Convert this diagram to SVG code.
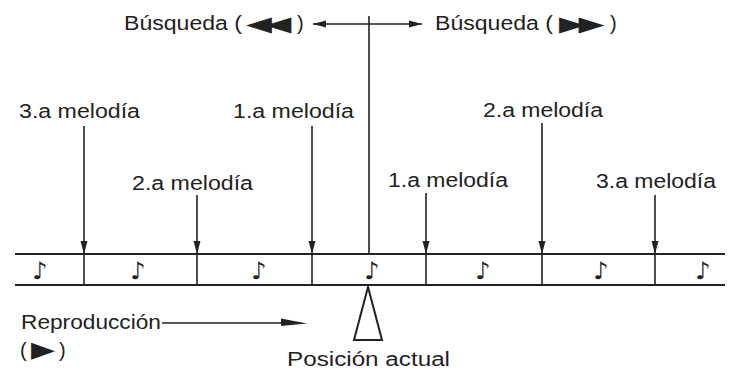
<svg xmlns="http://www.w3.org/2000/svg" width="734" height="370" viewBox="0 0 734 370">
<defs>
<style>
text{font-family:"Liberation Sans",Arial,sans-serif;font-size:20px;fill:#222}
.sym{font-family:"DejaVu Sans",sans-serif}
.note{font-family:"DejaVu Sans",sans-serif;font-size:24px;text-anchor:middle;fill:#222}
.ln{stroke:#222;stroke-width:1.6;fill:none}
.tape{stroke:#222;stroke-width:2.2;fill:none}
</style>
<marker id="ah" markerUnits="userSpaceOnUse" markerWidth="13" markerHeight="8" refX="13" refY="4" orient="auto-start-reverse" viewBox="0 0 13 8">
<path d="M0,0.5 L13,4 L0,7.5 z" fill="#222"/>
</marker>
</defs>
<rect width="734" height="370" fill="#fff"/>

<g id="tape">
<line class="tape" x1="15" y1="254" x2="725" y2="254"/>
<line class="tape" x1="15" y1="285" x2="725" y2="285"/>
<line class="ln" x1="84" y1="254" x2="84" y2="285"/>
<line class="ln" x1="197" y1="254" x2="197" y2="285"/>
<line class="ln" x1="312" y1="254" x2="312" y2="285"/>
<line class="ln" x1="426" y1="254" x2="426" y2="285"/>
<line class="ln" x1="542" y1="254" x2="542" y2="285"/>
<line class="ln" x1="655" y1="254" x2="655" y2="285"/>
<text class="note" x="40" y="279">♪</text>
<text class="note" x="138" y="279">♪</text>
<text class="note" x="259" y="279">♪</text>
<text class="note" x="372" y="279">♪</text>
<text class="note" x="483" y="279">♪</text>
<text class="note" x="601" y="279">♪</text>
<text class="note" x="703" y="279">♪</text>
</g>

<g id="connectors">
<line class="ln" x1="84" y1="126" x2="84" y2="254" marker-end="url(#ah)"/>
<line class="ln" x1="197" y1="195" x2="197" y2="254" marker-end="url(#ah)"/>
<line class="ln" x1="312" y1="126" x2="312" y2="254" marker-end="url(#ah)"/>
<line class="ln" x1="426" y1="193" x2="426" y2="254" marker-end="url(#ah)"/>
<line class="ln" x1="542" y1="123" x2="542" y2="254" marker-end="url(#ah)"/>
<line class="ln" x1="655" y1="195" x2="655" y2="254" marker-end="url(#ah)"/>
<line class="ln" x1="369" y1="16" x2="369" y2="254"/>
<line class="ln" x1="313" y1="24" x2="422" y2="24" marker-start="url(#ah)" marker-end="url(#ah)"/>
<line class="ln" x1="162" y1="323" x2="290" y2="323"/>
<polygon points="281,318.5 307,323.5 281,326" fill="#222"/>
</g>

<g id="search-rev">
<text x="124" y="30" font-size="21"><tspan textLength="118" lengthAdjust="spacingAndGlyphs">Búsqueda (</tspan><tspan class="sym" x="246" y="31" font-size="21" textLength="39" lengthAdjust="spacingAndGlyphs" letter-spacing="-4">◀◀</tspan><tspan x="297" y="30">)</tspan></text>
</g>
<g id="search-fwd">
<text x="435" y="30" font-size="21"><tspan textLength="118" lengthAdjust="spacingAndGlyphs">Búsqueda (</tspan><tspan class="sym" x="559" y="31" font-size="21" textLength="39" lengthAdjust="spacingAndGlyphs" letter-spacing="-4">▶▶</tspan><tspan x="610" y="30">)</tspan></text>
</g>

<g id="m3-left"><text x="19" y="118" textLength="121" lengthAdjust="spacingAndGlyphs">3.a melodía</text></g>
<g id="m2-left"><text x="132" y="190" textLength="121" lengthAdjust="spacingAndGlyphs">2.a melodía</text></g>
<g id="m1-left"><text x="233" y="118" textLength="121" lengthAdjust="spacingAndGlyphs">1.a melodía</text></g>
<g id="m1-right"><text x="388" y="187" textLength="120" lengthAdjust="spacingAndGlyphs">1.a melodía</text></g>
<g id="m2-right"><text x="483" y="117" textLength="120" lengthAdjust="spacingAndGlyphs">2.a melodía</text></g>
<g id="m3-right"><text x="596" y="188" textLength="120" lengthAdjust="spacingAndGlyphs">3.a melodía</text></g>

<g id="playback">
<text x="21" y="329" textLength="140" lengthAdjust="spacingAndGlyphs">Reproducción</text>
<text x="20" y="357">(<tspan class="sym" x="31" y="357" font-size="22" textLength="24" lengthAdjust="spacingAndGlyphs">▶</tspan><tspan x="59" y="357">)</tspan></text>
</g>

<g id="position">
<polygon points="368,287 354,340 382,340" fill="#fff" stroke="#222" stroke-width="2"/>
<text x="287" y="366" textLength="163" lengthAdjust="spacingAndGlyphs">Posición actual</text>
</g>
</svg>
